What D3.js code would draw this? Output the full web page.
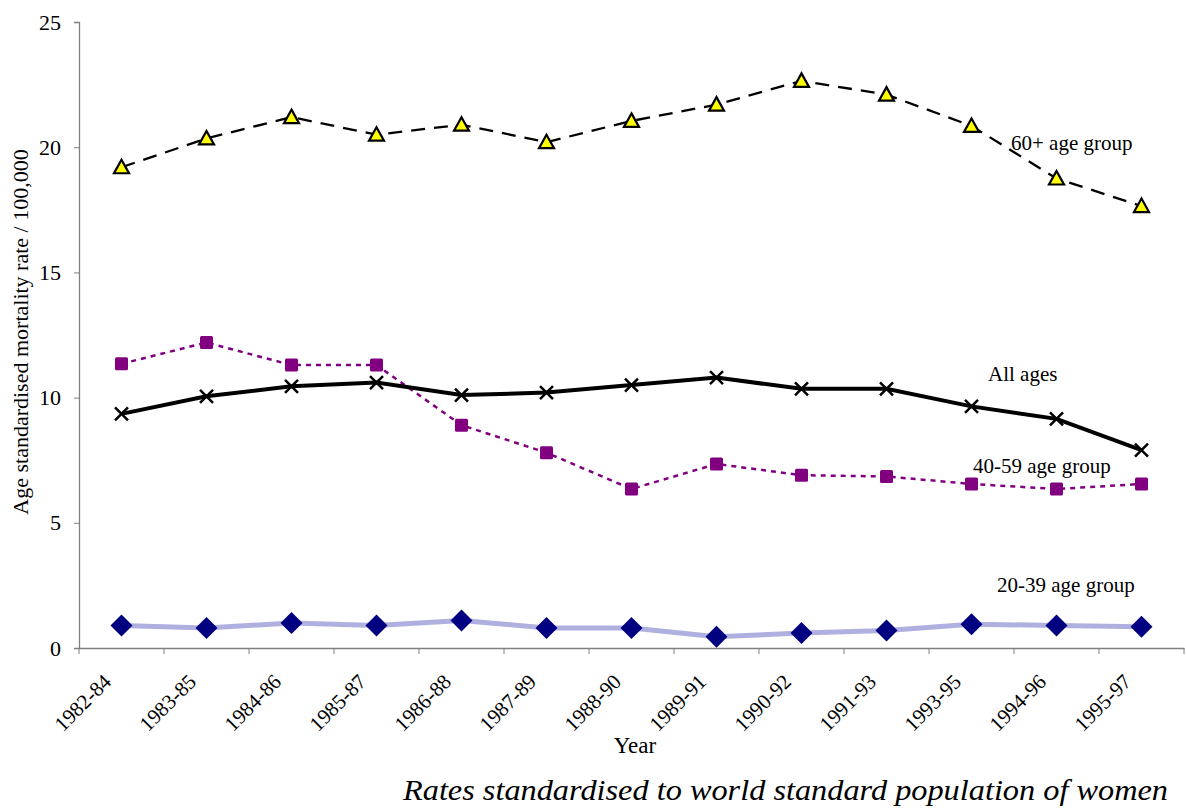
<!DOCTYPE html>
<html>
<head>
<meta charset="utf-8">
<script src="https://cdn.jsdelivr.net/npm/d3@7"></script>
<style>
  body { margin: 0; background: #fff; }
  text { font-family: "Liberation Serif", "Times New Roman", serif; fill: #000; }
</style>
</head>
<body>
<div id="chart"></div>
<script>
// periods on the x axis
var years = ["1982-84", "1983-85", "1984-86", "1985-87", "1986-88", "1987-89", "1988-90",
             "1989-91", "1990-92", "1991-93", "1993-95", "1994-96", "1995-97"];

// age standardised mortality rate / 100,000
var age60plus = [19.2, 20.35, 21.2, 20.5, 20.9, 20.2, 21.05, 21.7, 22.65, 22.1, 20.85, 18.75, 17.65];
var allAges   = [9.35, 10.05, 10.45, 10.6, 10.1, 10.2, 10.5, 10.8, 10.35, 10.35, 9.65, 9.15, 7.9];
var age4059   = [11.35, 12.2, 11.3, 11.3, 8.9, 7.8, 6.35, 7.35, 6.9, 6.85, 6.55, 6.35, 6.55];
var age2039   = [0.9, 0.8, 1.0, 0.9, 1.1, 0.8, 0.8, 0.45, 0.6, 0.7, 0.95, 0.9, 0.85];

var yTicks = [0, 5, 10, 15, 20, 25];

var width = 1186, height = 810;
var margin = { left: 79, right: 2, top: 22, bottom: 162 };

var svg = d3.select("#chart").append("svg")
    .attr("width", width)
    .attr("height", height);

var x = d3.scaleBand()
    .domain(years)
    .range([margin.left, width - margin.right]);

var y = d3.scaleLinear()
    .domain([0, 25])
    .range([height - margin.bottom, margin.top]);

var xc = function(d, i) { return x(years[i]) + x.bandwidth() / 2; };

// axes
var yAxis = svg.append("g")
    .attr("transform", "translate(" + margin.left + ",0)")
    .call(d3.axisLeft(y).tickValues(yTicks).tickSize(5).tickPadding(13));
yAxis.selectAll("text").style("font-size", "22px").attr("font-family", null);

var xAxis = svg.append("g")
    .attr("transform", "translate(0," + y(0) + ")")
    .call(d3.axisBottom(x).tickSize(0).tickFormat(""));

// tick marks on band edges
xAxis.selectAll(".edge")
    .data(d3.range(years.length + 1))
  .enter().append("line")
    .attr("class", "edge")
    .attr("x1", function(i) { return margin.left + i * x.step(); })
    .attr("x2", function(i) { return margin.left + i * x.step(); })
    .attr("y1", 0).attr("y2", 6)
    .attr("stroke", "#808080");

svg.selectAll(".domain").attr("stroke", "#808080").attr("stroke-width", 1.3);
yAxis.selectAll(".tick line").attr("stroke", "#808080");

// rotated year labels
svg.append("g").selectAll("text")
    .data(years)
  .enter().append("text")
    .attr("transform", function(d, i) {
        return "translate(" + (xc(d, i) - 9) + "," + (y(0) + 35) + ") rotate(-45)";
    })
    .attr("text-anchor", "end")
    .style("font-size", "21px")
    .text(function(d) { return d; });

// line builder
var line = d3.line()
    .x(function(d, i) { return xc(d, i); })
    .y(function(d) { return y(d); });

// 20-39
svg.append("path")
    .datum(age2039)
    .attr("d", line)
    .attr("fill", "none")
    .attr("stroke", "#b0b0e0")
    .attr("stroke-width", 5);

svg.append("g").selectAll("path")
    .data(age2039)
  .enter().append("path")
    .attr("transform", function(d, i) { return "translate(" + xc(d, i) + "," + y(d) + ")"; })
    .attr("d", "M0,-11L11,0L0,11L-11,0Z")
    .attr("fill", "#000080");

// 40-59
svg.append("path")
    .datum(age4059)
    .attr("d", line)
    .attr("fill", "none")
    .attr("stroke", "#800080")
    .attr("stroke-width", 2.5)
    .attr("stroke-dasharray", "5,5");

svg.append("g").selectAll("rect")
    .data(age4059)
  .enter().append("rect")
    .attr("x", function(d, i) { return xc(d, i) - 6.5; })
    .attr("y", function(d) { return y(d) - 6.5; })
    .attr("width", 13).attr("height", 13)
    .attr("rx", 1.5)
    .attr("fill", "#800080");

// all ages
svg.append("path")
    .datum(allAges)
    .attr("d", line)
    .attr("fill", "none")
    .attr("stroke", "#000")
    .attr("stroke-width", 4);

svg.append("g").selectAll("path")
    .data(allAges)
  .enter().append("path")
    .attr("transform", function(d, i) { return "translate(" + xc(d, i) + "," + y(d) + ")"; })
    .attr("d", "M-6.5,-6.5L6.5,6.5M-6.5,6.5L6.5,-6.5")
    .attr("stroke", "#000")
    .attr("stroke-width", 2.5);

// 60+
svg.append("path")
    .datum(age60plus)
    .attr("d", line)
    .attr("fill", "none")
    .attr("stroke", "#000")
    .attr("stroke-width", 2.3)
    .attr("stroke-dasharray", "14,9");

svg.append("g").selectAll("path")
    .data(age60plus)
  .enter().append("path")
    .attr("transform", function(d, i) { return "translate(" + xc(d, i) + "," + y(d) + ")"; })
    .attr("d", "M0,-7.5L7.5,6L-7.5,6Z")
    .attr("fill", "#ffff00")
    .attr("stroke", "#000")
    .attr("stroke-width", 2.2)
    .attr("stroke-linejoin", "miter");

// series labels
var labels = [
    { t: "60+ age group", x: 1011, y: 150 },
    { t: "All ages", x: 988, y: 381 },
    { t: "40-59 age group", x: 973, y: 473 },
    { t: "20-39 age group", x: 997, y: 592 }
];
svg.append("g").selectAll("text")
    .data(labels)
  .enter().append("text")
    .attr("x", function(d) { return d.x; })
    .attr("y", function(d) { return d.y; })
    .style("font-size", "21px")
    .text(function(d) { return d.t; });

// axis titles
svg.append("text")
    .attr("transform", "translate(28,332) rotate(-90)")
    .attr("text-anchor", "middle")
    .style("font-size", "22px")
    .text("Age standardised mortality rate / 100,000");

svg.append("text")
    .attr("x", 635)
    .attr("y", 753)
    .attr("text-anchor", "middle")
    .style("font-size", "23px")
    .text("Year");

svg.append("text")
    .attr("x", 403)
    .attr("y", 800)
    .attr("textLength", 765)
    .attr("lengthAdjust", "spacingAndGlyphs")
    .style("font-size", "30px")
    .style("font-style", "italic")
    .text("Rates standardised to world standard population of women");
</script>
</body>
</html>
